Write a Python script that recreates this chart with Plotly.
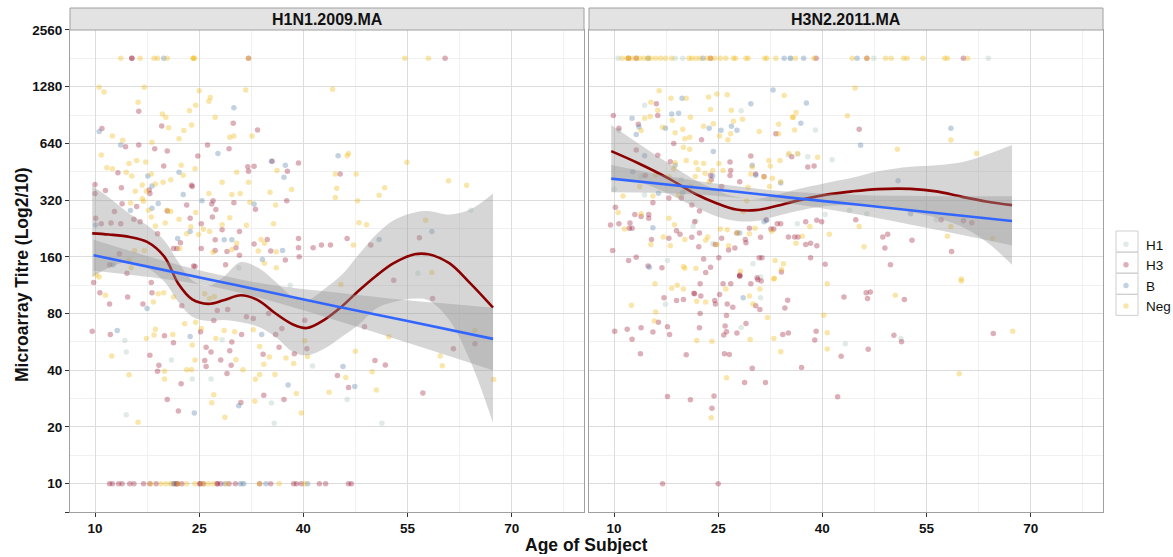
import plotly.graph_objects as go

# ---------------- data (age, titre) ----------------
PANELS = ["H1N1.2009.MA", "H3N2.2011.MA"]
GROUPS = ["H1", "H3", "B", "Neg"]
COLORS = {"H1": "#a8c5b7", "H3": "#9b1a37", "B": "#547ea9", "Neg": "#f1b80c"}

Y_TICKS = [7.07, 10, 20, 40, 80, 160, 320, 640, 1280, 2560]
Y_TICK_TEXT = ["", "10", "20", "40", "80", "160", "320", "640", "1280", "2560"]
Y_MINOR = [14.14, 28.28, 56.57, 113.1, 226.3, 452.5, 905.1, 1810]
X_TICKS = [10, 25, 40, 55, 70]
X_MINOR = [17.5, 32.5, 47.5, 62.5, 77.5]

# ---- H1N1 panel points ----
L_H1 = [(14.3, 57.5), (14.5, 50), (14.5, 23.2), (21.0, 45.3), (24.0, 35.9), (26.7, 35.9),
        (28.3, 58), (35.4, 26.8), (35.8, 20.9), (41.3, 42.1), (46.3, 28), (51.3, 20.9),
        (38.1, 113), (30.7, 140), (64.1, 283), (56.5, 131), (21.0, 10), (31.2, 10)]
L_B = [(19.9, 1810), (10.6, 740), (13.7, 627), (30.0, 990), (27.7, 565), (35.4, 514), (37.4, 490),
       (37.2, 423), (45.0, 550), (17.6, 430), (18.2, 380), (19.1, 307), (18.2, 290), (22.7, 343),
       (25.4, 318), (22.1, 450), (21.9, 200), (23.7, 218), (28.6, 197), (29.7, 197), (32.9, 305),
       (37.0, 173), (34.1, 155), (50.9, 198), (58.5, 218), (12.6, 145), (10.1, 236), (15.1, 282),
       (13.2, 65), (17.5, 85), (23.7, 60.4), (30.7, 25.9), (34.0, 62), (37.8, 33.4), (45.7, 41.9),
       (47.4, 32.8), (24.3, 23.7), (30.9, 10), (31.4, 10), (34.6, 10), (40.6, 10), (21.4, 10), (28.7, 10)]
L_H3 = [(16.3, 949), (11.0, 768), (14.4, 614), (16.3, 627), (19.6, 792), (20.4, 583), (18.6, 600),
        (13.3, 447), (13.8, 372), (10.0, 387), (11.5, 360), (19.9, 485), (17.9, 347), (17.8, 362),
        (23.9, 384), (24.0, 378), (29.9, 818), (33.4, 754), (26.2, 627), (24.8, 549), (29.3, 600),
        (32.0, 481), (32.9, 484), (32.1, 456), (35.5, 514), (37.7, 455), (39.3, 504), (37.6, 318),
        (45.3, 440), (27.0, 318), (26.8, 305), (27.4, 285), (30.0, 310), (33.1, 286), (34.8, 198),
        (39.3, 200), (39.3, 179), (39.4, 160), (41.4, 179), (42.6, 185), (43.9, 185), (46.3, 200),
        (49.7, 185), (56.7, 202), (37.4, 154), (35.3, 172), (32.9, 187), (30.8, 218), (30.3, 179),
        (27.3, 197), (28.3, 223), (29.0, 171), (27.3, 173), (25.3, 177), (24.2, 143), (21.8, 177),
        (22.3, 190), (21.3, 177), (20.4, 280), (23.7, 256), (23.2, 301), (25.3, 240), (26.9, 260),
        (12.8, 278), (13.9, 306), (10.9, 240), (10.1, 256), (10.0, 347), (12.3, 242), (13.7, 240),
        (16.0, 296), (15.6, 253), (16.5, 246), (19.0, 212), (13.5, 166), (12.1, 145), (14.6, 131),
        (30.8, 163), (28.8, 145), (24.4, 142),
        (9.8, 117), (10.7, 103), (12.1, 90), (14.7, 98), (9.6, 64.5), (12.2, 62), (16.9, 90),
        (18.2, 103), (18.1, 117), (17.9, 48), (20.0, 61), (21.3, 56), (19.2, 42.5), (19.0, 39.5),
        (22.4, 33.9), (20.4, 28), (22.0, 24.3), (22.5, 88), (25.2, 64), (26.0, 53), (26.7, 50),
        (25.8, 45), (26.0, 41.9), (28.1, 45.3), (29.4, 50.7), (29.7, 56.5), (29.0, 38.4), (29.6, 42.5),
        (31.1, 62), (31.8, 76.8), (27.1, 73.5), (27.6, 83), (29.1, 84), (32.8, 75.3), (34.2, 48.6),
        (36.5, 53), (36.9, 66.6), (38.7, 49), (36.0, 62), (34.3, 29.5), (31.0, 27), (37.2, 28),
        (35.0, 80), (40.2, 73.8), (40.5, 52), (44.9, 37.5), (46.5, 32.4), (48.8, 68), (50.3, 45),
        (51.8, 42.6), (57.2, 30.3), (61.6, 52), (64.7, 55.3), (58.6, 96), (53.0, 120),
        (15.3, 1810), (15.3, 1810), (32.1, 1810), (60.4, 1810),
        (12.1, 10), (12.5, 10), (13.4, 10), (13.9, 10), (15.0, 10), (15.6, 10), (17.0, 10), (17.9, 10),
        (18.8, 10), (21.4, 10), (21.8, 10), (21.8, 10), (22.5, 10), (25.1, 10), (25.1, 10), (25.6, 10),
        (27.6, 10), (27.6, 10), (28.1, 10), (29.3, 10), (30.2, 10), (33.7, 10), (35.3, 10), (38.6, 10),
        (39.0, 10), (39.7, 10), (42.3, 10), (43.2, 10), (46.5, 10), (46.9, 10)]
L_Neg = [(10.6, 1270), (11.3, 1200), (17.1, 1270), (16.2, 1060), (25.0, 1220), (26.6, 1120), (26.4, 1070),
         (31.7, 1230), (44.2, 1240), (19.7, 916), (20.2, 880), (23.6, 955), (24.5, 1020), (27.3, 880),
         (23.9, 801), (22.8, 750), (22.1, 677), (20.6, 776), (12.5, 700), (14.0, 665), (18.2, 650),
         (10.9, 556), (14.9, 500), (16.0, 520), (17.3, 510), (12.5, 470), (14.5, 450), (15.3, 430),
         (18.1, 440), (17.4, 357), (17.0, 316), (18.7, 390), (19.8, 398), (20.9, 410), (22.4, 490),
         (22.7, 434), (24.4, 470), (26.4, 347), (28.3, 398), (29.7, 343), (30.9, 347), (30.4, 450),
         (32.1, 398), (32.3, 312), (32.6, 700), (29.4, 690), (30.0, 700), (36.2, 460), (35.2, 352),
         (38.3, 364), (36.0, 301), (44.6, 440), (44.8, 370), (44.6, 330), (46.3, 550), (46.5, 566),
         (47.6, 440), (47.8, 318), (51.7, 372), (50.9, 340), (54.9, 508), (60.9, 405), (63.5, 384),
         (48.0, 243), (49.1, 237), (57.6, 250), (47.2, 185), (18.1, 260), (18.7, 233), (20.1, 242),
         (20.9, 278), (22.1, 253), (22.2, 177), (23.2, 212), (23.8, 231), (24.5, 275), (24.9, 210),
         (26.5, 218), (29.4, 258), (29.7, 175), (30.4, 189), (31.8, 235), (33.9, 198), (34.4, 189),
         (35.7, 240), (33.5, 172), (36.1, 170), (36.1, 140), (34.4, 148), (28.3, 237), (27.0, 169),
         (25.6, 224), (20.4, 283), (17.7, 283), (16.8, 385), (16.8, 325), (11.7, 475), (15.1, 309),
         (15.8, 357), (15.7, 173), (17.1, 173), (14.9, 154), (15.2, 140), (10.6, 125),
         (10.2, 128), (11.5, 100), (18.4, 92), (19.1, 102), (19.9, 103), (21.3, 98), (18.7, 66),
         (17.4, 59), (18.5, 61.5), (12.4, 47.6), (14.9, 37.9), (16.2, 21.2), (20.0, 39.5), (20.0, 35.9),
         (21.2, 62), (22.9, 70.5), (24.5, 72), (23.2, 40.2), (23.9, 40.2), (24.0, 54.5), (24.4, 45.3),
         (25.3, 66.6), (26.5, 96), (25.8, 102), (27.2, 98.5), (28.6, 65), (30.1, 64), (27.4, 59),
         (30.3, 45.5), (31.3, 40.2), (27.1, 29.6), (26.8, 26.9), (28.7, 22.5), (33.0, 27.4), (33.1, 35.8),
         (33.7, 38), (34.3, 43), (35.1, 47), (32.8, 65.6), (33.7, 53.4), (35.9, 38), (37.5, 46.5),
         (38.6, 43.4), (39.0, 30.1), (39.7, 23.7), (40.2, 57.4), (40.6, 47.3), (43.7, 30.6), (46.1, 36.6),
         (47.5, 50.5), (49.9, 39.3), (50.5, 31.4), (52.3, 60.2), (59.7, 47.6), (60.0, 42.2), (64.7, 65.3),
         (67.4, 35.7), (58.5, 132), (45.4, 114),
         (13.7, 1810), (16.5, 1810), (18.5, 1810), (19.0, 1810), (20.4, 1810), (24.1, 1810), (24.3, 1810),
         (24.2, 1810), (32.1, 1810), (54.6, 1810), (58.0, 1810),
         (18.0, 10), (19.5, 10), (20.2, 10), (20.9, 10), (22.0, 10), (23.2, 10), (24.4, 10), (26.3, 10),
         (27.0, 10), (29.0, 10), (33.7, 10), (36.5, 10), (40.2, 10), (25.5, 10)]

# ---- H3N2 panel points ----
R_H1 = [(14.4, 1020), (10.7, 750), (28.3, 955), (39.0, 754), (41.4, 524), (37.9, 544), (36.5, 560),
        (35.1, 555), (19.7, 410), (14.4, 341), (10.0, 365), (13.9, 427), (17.7, 153), (30.0, 147),
        (31.1, 125), (36.4, 240), (40.4, 268), (46.4, 271), (21.8, 248), (21.4, 232), (24.2, 188),
        (56.4, 252), (43.9, 283), (17.4, 89.5), (28.3, 67.4), (31.1, 97), (43.3, 55.3), (51.3, 59),
        (10.6, 1810), (18.8, 1810), (47.4, 1810), (63.9, 1810), (35.4, 1810), (19.9, 1810)]
R_B = [(32.9, 1230), (29.7, 1040), (37.7, 1050), (36.9, 820), (26.9, 790), (27.7, 752), (23.7, 770),
       (25.4, 752), (24.3, 580), (18.3, 916), (19.3, 925), (19.8, 1110), (12.6, 870), (13.2, 713),
       (14.4, 550), (13.6, 782), (17.4, 770), (12.7, 452), (18.8, 490), (19.9, 350), (16.4, 348),
       (15.6, 228), (24.2, 430), (29.9, 490), (30.4, 433), (34.0, 395), (31.6, 246), (32.0, 250),
       (50.9, 405), (58.5, 770), (45.5, 626), (52.7, 271), (15.1, 141), (28.1, 214), (28.6, 97),
       (34.5, 1810), (37.3, 1810), (45.0, 1810), (14.9, 1810), (22.8, 1810), (35.4, 1810)]
R_H3 = [(9.9, 899), (10.7, 770), (13.5, 810), (16.3, 900), (16.1, 1040), (18.6, 640), (22.6, 669),
        (13.2, 590), (26.7, 510), (29.7, 548), (33.3, 720), (45.3, 760), (35.6, 544), (37.9, 480),
        (38.8, 485), (30.4, 440), (31.6, 427), (24.0, 411), (26.7, 432), (25.5, 378), (14.5, 432),
        (16.3, 553), (18.1, 512), (15.6, 310), (17.9, 328), (21.2, 301), (22.3, 280), (19.7, 328),
        (10.2, 293), (9.8, 173), (9.5, 236), (10.7, 240), (12.3, 242), (12.6, 227), (12.2, 227),
        (13.0, 268), (13.9, 262), (15.0, 268), (15.0, 256), (15.4, 198), (16.9, 140), (14.9, 143),
        (13.2, 159), (12.1, 153), (17.9, 201), (19.0, 220), (19.5, 211), (21.2, 203), (22.3, 214),
        (22.2, 181), (21.6, 246), (22.9, 156), (23.9, 141), (24.6, 186), (25.1, 158), (25.5, 201),
        (26.5, 174), (27.4, 178), (27.7, 214), (28.9, 198), (29.0, 190), (29.5, 227), (30.9, 158),
        (31.3, 158), (31.1, 203), (28.1, 127), (30.6, 124), (31.9, 252), (32.6, 225), (33.0, 225),
        (33.5, 240), (34.0, 240), (35.1, 204), (36.0, 204), (36.5, 204), (37.6, 246), (39.2, 250),
        (39.9, 246), (37.6, 186), (38.3, 189), (39.2, 183), (38.3, 158), (40.4, 146), (44.8, 252),
        (48.7, 204), (49.4, 211), (49.0, 178), (49.8, 145), (52.9, 196), (57.1, 252), (60.3, 249),
        (61.5, 243), (58.6, 171), (28.1, 400), (26.8, 459), (23.9, 434),
        (10.1, 64.5), (11.9, 66), (12.6, 58.5), (13.9, 67.2), (13.8, 49), (15.6, 63.8), (16.4, 72),
        (17.7, 68), (18.0, 62), (17.2, 97), (19.0, 93.8), (20.0, 95), (21.6, 102), (22.5, 99),
        (22.4, 115), (23.2, 132), (22.3, 67.2), (22.4, 80), (24.5, 93.8), (24.6, 90), (25.2, 101),
        (25.7, 115), (26.8, 115), (26.3, 90), (26.2, 78), (27.1, 86.5), (28.1, 126), (29.7, 115),
        (30.7, 121), (31.2, 119), (30.4, 88), (31.0, 84), (26.0, 68.6), (26.2, 64), (25.8, 61.5),
        (27.7, 63), (29.0, 70.8), (25.9, 49), (26.6, 48.5), (29.9, 41), (28.8, 34.4), (31.8, 34.4),
        (37.0, 41.3), (34.3, 62), (35.1, 63), (34.6, 85.6), (35.0, 94), (34.1, 133), (38.9, 57.8),
        (39.1, 64.5), (42.7, 47.5), (46.6, 51.7), (43.1, 98), (46.3, 103), (46.9, 104), (46.5, 96),
        (50.3, 61.3), (51.4, 56.6), (51.8, 95), (64.6, 62.6), (17.7, 29.0), (21.0, 27.9), (24.4, 29.2),
        (24.1, 25.1), (42.2, 28.9), (20.4, 48.4), (21.5, 102.6), (28.1, 128),
        (12.1, 1810), (13.2, 1810), (23.9, 1810), (39.1, 1810), (46.4, 1810), (60.3, 1810),
        (17.0, 10), (25.0, 10)]
R_Neg = [(16.5, 1220), (15.3, 1060), (18.2, 1110), (20.4, 1110), (23.6, 1130), (24.8, 1170), (26.3, 1160),
         (34.5, 1150), (23.9, 969), (26.9, 961), (36.2, 935), (35.8, 880), (21.0, 880), (18.4, 850),
         (16.3, 961), (14.4, 870), (15.2, 890), (13.9, 750), (17.0, 780), (19.9, 760), (18.8, 730),
         (20.2, 677), (20.9, 690), (22.9, 790), (24.3, 815), (25.2, 700), (26.4, 669), (26.8, 720),
         (28.5, 860), (27.2, 840), (30.9, 740), (33.7, 810), (33.7, 720), (36.0, 754), (35.7, 880),
         (43.6, 897), (44.7, 1260), (50.8, 596), (58.5, 667), (62.2, 565), (36.4, 565), (39.3, 540),
         (35.2, 565), (33.9, 520), (32.3, 520), (32.5, 486), (34.0, 400), (31.6, 424), (32.8, 418),
         (32.4, 378), (29.3, 375), (29.7, 440), (29.9, 480), (25.7, 459), (24.2, 459), (25.1, 500),
         (22.9, 500), (22.1, 465), (21.8, 505), (23.1, 445), (20.4, 520), (20.0, 610), (20.9, 595),
         (21.7, 427), (21.1, 378), (23.7, 400), (18.8, 505), (18.6, 470), (17.9, 427), (16.0, 435),
         (13.7, 378), (11.3, 336), (15.6, 336), (19.3, 341), (13.9, 271), (10.6, 275), (17.9, 256),
         (17.1, 204), (18.7, 237), (18.1, 183), (20.2, 198), (15.3, 186), (23.2, 196), (23.5, 204),
         (24.8, 186), (26.3, 223), (26.5, 183), (28.6, 278), (29.1, 318), (27.7, 214), (29.5, 212),
         (30.3, 227), (32.7, 219), (33.2, 153), (34.4, 147), (34.1, 137), (36.2, 189), (37.1, 206),
         (38.2, 232), (41.0, 211), (45.3, 232), (46.0, 181), (58.0, 206), (58.5, 232), (64.5, 200),
         (60.0, 122), (33.0, 122), (20.2, 139), (20.0, 142), (21.8, 139), (25.3, 225), (11.5, 225),
         (12.5, 88.5), (15.9, 115), (16.0, 81.6), (15.8, 73), (18.3, 109), (19.1, 113), (20.0, 108),
         (21.9, 93), (21.9, 57.6), (23.2, 92), (24.1, 57), (24.0, 22.4), (26.1, 108), (26.2, 36.5),
         (29.5, 99), (29.6, 58.3), (30.0, 90), (31.0, 108), (32.1, 76.1), (33.0, 59), (33.1, 123),
         (34.0, 50.2), (40.2, 78.4), (40.7, 63.3), (40.7, 51.9), (40.7, 115), (50.5, 100), (60.0, 119),
         (59.7, 38.3), (67.4, 64.4), (28.2, 134),
         (11.2, 1810), (11.9, 1810), (12.6, 1810), (13.2, 1810), (13.7, 1810), (14.3, 1810), (15.3, 1810),
         (16.0, 1810), (16.7, 1810), (17.4, 1810), (18.3, 1810), (20.8, 1810), (21.2, 1810), (21.8, 1810),
         (22.4, 1810), (23.4, 1810), (24.5, 1810), (25.3, 1810), (26.1, 1810), (27.2, 1810), (27.5, 1810),
         (29.0, 1810), (29.3, 1810), (31.7, 1810), (32.0, 1810), (33.3, 1810), (36.1, 1810), (38.8, 1810),
         (44.3, 1810), (49.1, 1810), (49.9, 1810), (51.7, 1810), (52.2, 1810), (54.5, 1810), (57.6, 1810),
         (58.0, 1810), (60.9, 1810), (12.1, 1810), (14.9, 1810), (23.9, 1810), (46.4, 1810)]

POINTS = {
    0: {"H1": L_H1, "H3": L_H3, "B": L_B, "Neg": L_Neg},
    1: {"H1": R_H1, "H3": R_H3, "B": R_B, "Neg": R_Neg},
}

# ---- smoothers ----
L_LOESS_AGE = [9.6, 12, 15, 17.5, 20, 22, 24, 26.3, 28.5, 31, 33.5, 36, 38.5, 40.5, 43, 45.5, 48, 50.5,
               53, 56, 58, 61, 64, 67.3]
L_LOESS_FIT = [213, 210, 204, 192, 160, 115, 95, 90, 94, 100, 94, 80, 70, 67, 74, 87, 106, 127, 148,
               165, 165, 148, 116, 86]
L_LOESS_LO = [125, 140, 150, 140, 118, 92, 77, 73, 74, 72, 68, 60, 50, 48, 52, 60, 70, 85, 92, 96, 94,
              74, 45, 21]
L_LOESS_HI = [380, 330, 270, 235, 195, 150, 120, 112, 125, 150, 140, 118, 98, 94, 108, 128, 165, 210,
              250, 275, 280, 268, 285, 347]
L_LM_AGE = [9.8, 20, 28, 35, 45, 55, 67.3]
L_LM_FIT = [163, 136, 118, 104, 87, 73, 58.7]
L_LM_LO = [135, 122, 109, 94, 73, 56, 40]
L_LM_HI = [197, 152, 128, 114, 103, 94, 86]

R_LOESS_AGE = [9.6, 13.5, 17.9, 21.6, 24.85, 27.6, 30.4, 33.2, 36.4, 40.2, 44.3, 48, 52.7, 56.4, 60.1,
               63.8, 67.3]
R_LOESS_FIT = [582, 502, 416, 347, 307, 285, 283, 297, 318, 340, 356, 366, 367, 356, 333, 314, 301]
R_LOESS_LO = [425, 400, 345, 295, 262, 248, 248, 262, 280, 297, 300, 295, 277, 258, 231, 190, 145]
R_LOESS_HI = [802, 640, 500, 410, 360, 333, 325, 340, 365, 392, 420, 455, 481, 490, 508, 560, 627]
R_LM_AGE = [9.6, 20, 28, 35, 45, 55, 67.3]
R_LM_FIT = [416, 379, 353, 331, 303, 277, 248]
R_LM_LO = [352, 346, 329, 309, 269, 228, 184]
R_LM_HI = [491, 415, 378, 355, 341, 337, 335]

SMOOTH = {
    0: (L_LOESS_AGE, L_LOESS_FIT, L_LOESS_LO, L_LOESS_HI, L_LM_AGE, L_LM_FIT, L_LM_LO, L_LM_HI),
    1: (R_LOESS_AGE, R_LOESS_FIT, R_LOESS_LO, R_LOESS_HI, R_LM_AGE, R_LM_FIT, R_LM_LO, R_LM_HI),
}

# ---------------- figure ----------------
FONT = "Liberation Sans, Arial, Helvetica, sans-serif"
W, H = 1173, 557
ML, MR, MT, MB = 70, 70, 30, 45
PW = W - ML - MR
PH = H - MT - MB
GAP = 5
dom0 = [0, (PW - GAP) / 2 / PW]
dom1 = [(PW + GAP) / 2 / PW, 1]

RIBBON = "rgba(153,153,153,0.4)"

fig = go.Figure()
for p in (0, 1):
    xa = "x" if p == 0 else "x2"
    ya = "y" if p == 0 else "y2"
    for g in GROUPS:
        pts = POINTS[p][g]
        fig.add_trace(go.Scatter(
            x=[a for a, _ in pts], y=[t for _, t in pts], mode="markers",
            marker=dict(color=COLORS[g], size=5.5, opacity=0.35, line=dict(width=0)),
            name=g, legendgroup=g, showlegend=(p == 0), xaxis=xa, yaxis=ya, hoverinfo="skip"))
    la, lf, llo, lhi, ma, mf, mlo, mhi = SMOOTH[p]
    fig.add_trace(go.Scatter(x=la, y=llo, mode="lines", line=dict(width=0, shape="spline"),
                             showlegend=False, xaxis=xa, yaxis=ya, hoverinfo="skip"))
    fig.add_trace(go.Scatter(x=la, y=lhi, mode="lines", line=dict(width=0, shape="spline"),
                             fill="tonexty", fillcolor=RIBBON, showlegend=False, xaxis=xa, yaxis=ya,
                             hoverinfo="skip"))
    fig.add_trace(go.Scatter(x=la, y=lf, mode="lines", line=dict(width=2.6, color="#8b0000", shape="spline"),
                             showlegend=False, xaxis=xa, yaxis=ya, hoverinfo="skip"))
    fig.add_trace(go.Scatter(x=ma, y=mlo, mode="lines", line=dict(width=0, shape="spline"),
                             showlegend=False, xaxis=xa, yaxis=ya, hoverinfo="skip"))
    fig.add_trace(go.Scatter(x=ma, y=mhi, mode="lines", line=dict(width=0, shape="spline"),
                             fill="tonexty", fillcolor=RIBBON, showlegend=False, xaxis=xa, yaxis=ya,
                             hoverinfo="skip"))
    fig.add_trace(go.Scatter(x=ma, y=mf, mode="lines", line=dict(width=2.6, color="#3366ff", shape="spline"),
                             showlegend=False, xaxis=xa, yaxis=ya, hoverinfo="skip"))

GRID = "#dcdcdc"
MINOR = "#f0f0f0"
BORDER = "#a0a0a0"
tickfont = dict(family=FONT, size=13.5, color="#111", weight="bold")

xcommon = dict(range=[6.4, 80.4], tickvals=X_TICKS, ticktext=[str(v) for v in X_TICKS],
               showgrid=True, gridcolor=GRID, gridwidth=1, zeroline=False,
               showline=True, linecolor=BORDER, linewidth=1, mirror=True,
               ticks="outside", ticklen=4, tickcolor="#333", tickwidth=1,
               tickfont=tickfont,
               minor=dict(tickvals=X_MINOR, showgrid=True, gridcolor=MINOR, ticks=""))
ycommon = dict(type="log", range=[0.8495, 3.4082], tickvals=Y_TICKS, ticktext=Y_TICK_TEXT,
               showgrid=True, gridcolor=GRID, gridwidth=1, zeroline=False,
               showline=True, linecolor=BORDER, linewidth=1, mirror=True,
               tickfont=tickfont,
               minor=dict(tickvals=Y_MINOR, showgrid=True, gridcolor=MINOR, ticks=""))

LEG_TOP = 229
fig.update_layout(
    width=W, height=H, margin=dict(l=ML, r=MR, t=MT, b=MB, pad=0, autoexpand=False),
    paper_bgcolor="white", plot_bgcolor="white",
    font=dict(family=FONT, color="#111"),
    xaxis=dict(domain=dom0, anchor="y", **xcommon),
    xaxis2=dict(domain=dom1, anchor="y2", **xcommon),
    yaxis=dict(domain=[0, 1], anchor="x", ticks="outside", ticklen=4, tickcolor="#333", tickwidth=1,
               showticklabels=True, **ycommon),
    yaxis2=dict(domain=[0, 1], anchor="x2", ticks="", showticklabels=False, matches="y", **ycommon),
    legend=dict(x=(1106 - ML) / PW, xanchor="left", y=(MT + PH - LEG_TOP) / PH, yanchor="top",
                font=dict(family=FONT, size=13.5, color="#111"), bgcolor="rgba(0,0,0,0)",
                itemsizing="trace", tracegroupgap=0, borderwidth=0),
    showlegend=True,
)

# legend key boxes (ggplot style)
KEY_H = 21.1
for i in range(len(GROUPS)):
    y0 = LEG_TOP + 2 + i * KEY_H
    fig.add_shape(type="rect", xref="paper", yref="paper",
                  x0=(1116 - ML) / PW, x1=(1138 - ML) / PW,
                  y0=(MT + PH - y0) / PH, y1=(MT + PH - y0 - KEY_H) / PH,
                  fillcolor="rgba(0,0,0,0)", line=dict(color="#cfcfcf", width=1), layer="above")

# facet strips
STRIP_H = 22 / PH
for dom, label in zip((dom0, dom1), PANELS):
    fig.add_shape(type="rect", xref="paper", yref="paper", x0=dom[0], x1=dom[1], y0=1, y1=1 + STRIP_H,
                  fillcolor="#e3e3e3", line=dict(color=BORDER, width=1), layer="above")
    fig.add_annotation(x=(dom[0] + dom[1]) / 2, y=1 + STRIP_H / 2, xref="paper", yref="paper",
                       text=label, showarrow=False, xanchor="center", yanchor="middle",
                       font=dict(family=FONT, size=16, color="#111", weight="bold"))

# axis titles
fig.add_annotation(x=(586 - ML) / PW, y=-(545 - (MT + PH)) / PH, xref="paper", yref="paper",
                   text="Age of Subject", showarrow=False, xanchor="center", yanchor="middle",
                   height=18, valign="middle",
                   font=dict(family=FONT, size=17.5, color="#111", weight="bold"))
fig.add_annotation(x=(22 - ML) / PW, y=(MT + PH - 275) / PH, xref="paper", yref="paper",
                   text="Microarray Titre (Log2/10)", showarrow=False, textangle=-90,
                   xanchor="center", yanchor="middle",
                   font=dict(family=FONT, size=17.5, color="#111", weight="bold"))

fig.write_html("out.html")
